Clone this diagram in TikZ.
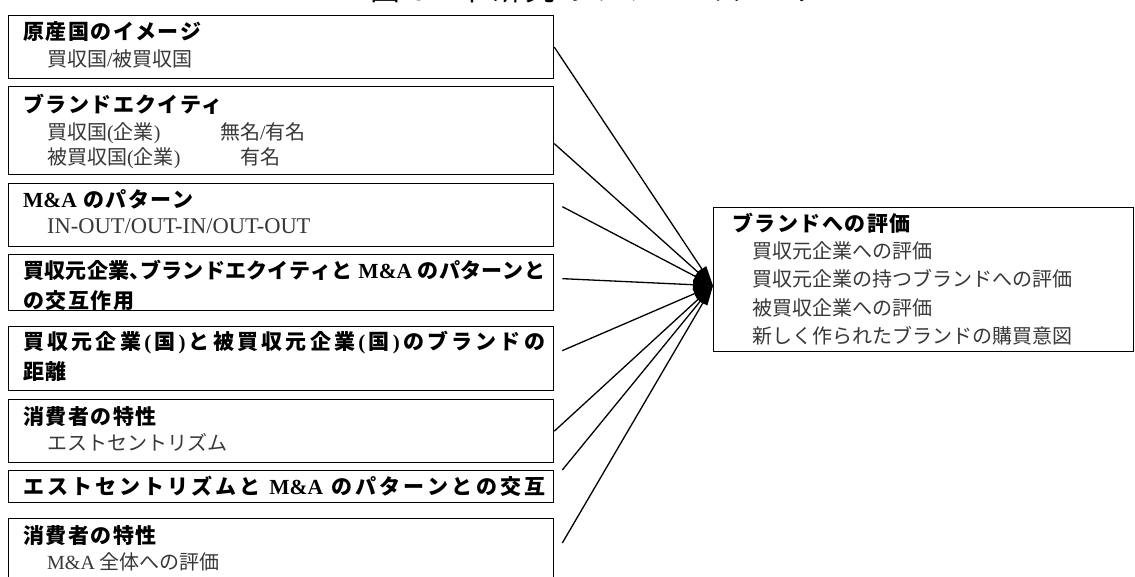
\documentclass[tikz,border=0pt]{standalone}
\usepackage{fontspec}
\setmainfont{Liberation Serif}
\newfontfamily\jp{Noto Sans CJK JP}
\newfontfamily\jpt{Noto Sans CJK JP}[LetterSpace=7]
\newfontfamily\jpc{Noto Sans CJK JP}[LetterSpace=12]
\usetikzlibrary{arrows.meta}
\newcommand\ttlfont{\fontsize{21}{25}\selectfont\jpt\bfseries}
\newcommand\subfont{\fontsize{20}{24}\selectfont\jp}
\newcommand\lat[1]{{\rmfamily #1}}
\newcommand\latb[1]{{\rmfamily\fontsize{21.5}{26}\selectfont #1}}
\makeatletter
\let\jl@end\relax
\def\jline#1{\hbox to 522pt{\jp\bfseries\jl@first#1\jl@end}}
\def\jl@first#1{#1\jl@next}
\def\jl@next#1{\ifx\jl@end#1\else\hfil#1\expandafter\jl@next\fi}
\makeatother
\definecolor{subgray}{gray}{0.22}
\tikzset{
  box/.style={draw, line width=1.3pt, anchor=north west, minimum width=545pt, inner sep=0pt},
  ttl/.style={anchor=base west, inner sep=0pt, font=\ttlfont},
  sub/.style={anchor=base west, inner sep=0pt, font=\subfont, text=subgray},
  conn/.style={line width=1.3pt, -{Triangle[length=20pt,width=10pt]}}
}
\begin{document}
\begin{tikzpicture}[x=1pt,y=-1pt]
\useasboundingbox (0,0) rectangle (1135,576);
\fill[white] (0,0) rectangle (1135,576);
% cropped caption at the top
\node[anchor=base, inner sep=0pt, font=\fontsize{30}{34}\selectfont\jpc] (cap) at (597,0) {図 3\quad 本研究のフレームワーク};
% left boxes
\node[box, minimum height=63pt] (b1) at (8,15) {};
\node[box, minimum height=88pt] (b2) at (8,86) {};
\node[box, minimum height=63pt] (b3) at (8,183) {};
\node[box, minimum height=56pt] (b4) at (8,254) {};
\node[box, minimum height=64pt] (b5) at (8,326) {};
\node[box, minimum height=63pt] (b6) at (8,399) {};
\node[box, minimum height=32pt] (b7) at (8,470) {};
\node[box, minimum height=70pt] (b8) at (8,518) {};
% right box
\node[box, minimum width=420pt, minimum height=144pt] (eval) at (713,207) {};
% texts
\node[ttl] (t1) at (23,39) {原産国のイメージ};
\node[sub] (s1) at (47,66) {買収国\lat{/}被買収国};
\node[ttl] (t2) at (23,112) {ブランドエクイティ};
\node[sub] (s2a) at (47,139) {買収国\lat{(}企業\lat{)}};
\node[sub] (s2b) at (220,139) {無名\lat{/}有名};
\node[sub] (s2c) at (47,164) {被買収国\lat{(}企業\lat{)}};
\node[sub] (s2d) at (240,164) {有名};
\node[ttl] (t3) at (23,207) {\latb{M\&A} のパターン};
\node[sub] (s3) at (47,233) {\lat{\fontsize{22.5}{26}\selectfont IN-OUT/OUT-IN/OUT-OUT}};
\node[ttl] (t4) at (23,278) {\jline{買収元企業{\makebox[10.5pt][l]{、}}ブランドエクイティと{\latb{\ M\&A\ }}のパターンと}};
\node[ttl] (t4b) at (23,308) {の交互作用};
\node[ttl] (t5) at (23,349) {\jline{買収元企業{\lat{(}}国{\lat{)}}と被買収元企業{\lat{(}}国{\lat{)}}のブランドの}};
\node[ttl] (t5b) at (23,379) {距離};
\node[ttl] (t6) at (23,424) {消費者の特性};
\node[sub] (s6) at (47,450) {エストセントリズム};
\node[ttl] (t7) at (23,494) {\jline{エストセントリズムと{\latb{\ M\&A\ }}のパターンとの交互}};
\node[ttl] (t8) at (23,543) {消費者の特性};
\node[sub] (s8) at (47,569) {\lat{M\&A} 全体への評価};
\node[ttl] (te) at (732,231) {ブランドへの評価};
\node[sub] (se1) at (752,258) {買収元企業への評価};
\node[sub] (se2) at (752,286) {買収元企業の持つブランドへの評価};
\node[sub] (se3) at (752,315) {被買収企業への評価};
\node[sub] (se4) at (752,343) {新しく作られたブランドの購買意図};
% connector ends
\coordinate (hub) at ([yshift=-6pt]eval.west);
\coordinate (c1) at (b1.east);
\coordinate (c2) at ([yshift=-13pt]b2.east);
\coordinate (c3) at ([xshift=8pt,yshift=8.5pt]b3.east);
\coordinate (c4) at ([xshift=8pt,yshift=4pt]b4.east);
\coordinate (c5) at ([xshift=8pt,yshift=8pt]b5.east);
\coordinate (c6) at (b6.east);
\coordinate (c7) at ([xshift=8pt]b7.north east);
\coordinate (c8) at ([xshift=8pt,yshift=-25pt]b8.north east);
\foreach \c in {c1,c2,c3,c4,c5,c6,c7,c8}
  \draw[conn] (\c) -- (hub);
\end{tikzpicture}
\end{document}
